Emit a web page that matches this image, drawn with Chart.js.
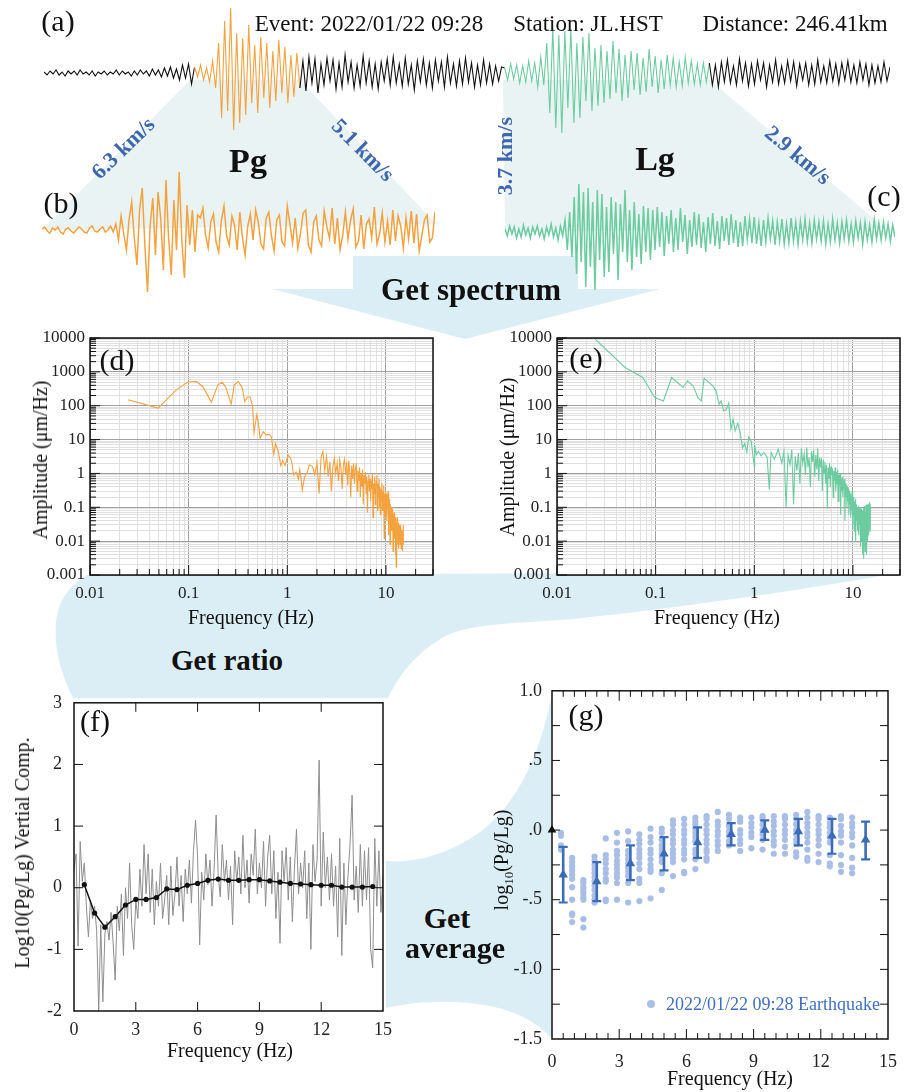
<!DOCTYPE html>
<html>
<head>
<meta charset="utf-8">
<script src="https://cdn.jsdelivr.net/npm/chart.js@4.4.1/dist/chart.umd.min.js"></script>
<style>
  html, body { margin: 0; padding: 0; background: #fff; }
  #page { position: relative; width: 909px; height: 1092px; overflow: hidden;
          font-family: "Liberation Serif", "Times New Roman", serif; color: #111; }
  #page canvas, #page svg { position: absolute; }
  .t { position: absolute; white-space: nowrap; line-height: 1; transform: translate(-50%, -50%); }
  .b { font-weight: bold; }
  .kms { font-weight: bold; font-size: 22px; color: #3d66ad; }
  .ttl { font-size: 20px; }
  .pl { font-size: 30px; }
</style>
</head>
<body>
<div id="page">
  <svg width="909" height="1092" style="left:0;top:0">
    <polygon points="190,80 300,80 436,224 42,230" fill="#e9f3f4"/>
    <polygon points="503,80 710,80 885,228 505,232" fill="#e9f3f4"/>
    <polygon points="353,256 578,256 578,289 660,289 465,339 272,289 353,289" fill="#dceef5"/>
    <path d="M87,575 L905,572 C800,590 680,608 583,618 C520,624 470,622 442,638 C416,653 398,676 388,698 L73,698 C60,672 52,642 57,615 C61,595 74,582 87,575 Z" fill="#dceef5"/>
    <path d="M386,861 C420,864 455,850 480,832 C515,805 540,760 553,688 L553,1040 C540,1025 520,1012 490,1006 C460,1000 420,1000 386,1008 Z" fill="#dceef5"/>
  </svg>

  <canvas id="ca" style="left:44px;top:3px" width="846" height="140"></canvas>
  <canvas id="cb" style="left:42px;top:160px" width="393" height="140"></canvas>
  <canvas id="cc" style="left:505px;top:162px" width="390" height="140"></canvas>
  <canvas id="cd" style="left:0px;top:320px" width="450" height="310"></canvas>
  <canvas id="ce" style="left:450px;top:320px" width="459" height="310"></canvas>
  <canvas id="cf" style="left:0px;top:680px" width="400" height="412"></canvas>
  <canvas id="cg" style="left:500px;top:670px" width="409" height="422"></canvas>

  <div class="t pl" style="left:58px;top:21px">(a)</div>
  <div class="t" style="left:369px;top:23px;font-size:23px">Event: 2022/01/22 09:28</div>
  <div class="t" style="left:588px;top:23px;font-size:23px">Station: JL.HST</div>
  <div class="t" style="left:795px;top:23px;font-size:23px">Distance: 246.41km</div>

  <div class="t kms" style="left:123px;top:148px;transform:translate(-50%,-50%) rotate(-44deg)">6.3 km/s</div>
  <div class="t b" style="left:248px;top:161px;font-size:34px">Pg</div>
  <div class="t kms" style="left:363px;top:150px;transform:translate(-50%,-50%) rotate(45deg)">5.1 km/s</div>
  <div class="t pl" style="left:61px;top:203px">(b)</div>

  <div class="t kms" style="left:505px;top:156px;transform:translate(-50%,-50%) rotate(-90deg)">3.7 km/s</div>
  <div class="t b" style="left:655px;top:159px;font-size:34px">Lg</div>
  <div class="t kms" style="left:798px;top:155px;transform:translate(-50%,-50%) rotate(40deg)">2.9 km/s</div>
  <div class="t pl" style="left:884px;top:196px">(c)</div>

  <div class="t b" style="left:471px;top:289px;font-size:31px">Get spectrum</div>

  <div class="t pl" style="left:117px;top:360px">(d)</div>
  <div class="t ttl" style="left:40px;top:460px;transform:translate(-50%,-50%) rotate(-90deg)">Amplitude (μm/Hz)</div>
  <div class="t ttl" style="left:251px;top:617px">Frequency (Hz)</div>

  <div class="t pl" style="left:586px;top:358px">(e)</div>
  <div class="t ttl" style="left:507px;top:457px;transform:translate(-50%,-50%) rotate(-90deg)">Amplitude (μm/Hz)</div>
  <div class="t ttl" style="left:717px;top:617px">Frequency (Hz)</div>

  <div class="t b" style="left:227px;top:660px;font-size:29px">Get ratio</div>

  <div class="t pl" style="left:95px;top:721px">(f)</div>
  <div class="t ttl" style="left:22px;top:853px;transform:translate(-50%,-50%) rotate(-90deg)">Log10(Pg/Lg) Vertial Comp.</div>
  <div class="t ttl" style="left:230px;top:1050px">Frequency (Hz)</div>

  <div class="t b" style="left:447px;top:918px;font-size:30px">Get</div>
  <div class="t b" style="left:455px;top:948px;font-size:30px">average</div>

  <div class="t pl" style="left:586px;top:715px">(g)</div>
  <div class="t ttl" style="left:503px;top:860px;transform:translate(-50%,-50%) rotate(-90deg)">log<sub style="font-size:13px">10</sub>(Pg/Lg)</div>
  <div class="t ttl" style="left:730px;top:1078px">Frequency (Hz)</div>
  <div style="position:absolute;left:647px;top:1000px;width:8px;height:8px;border-radius:50%;background:#a9bee6"></div>
  <div class="t" style="left:773px;top:1004px;font-size:18px;color:#3f6fc0">2022/01/22 09:28 Earthquake</div>
</div>

<script>
// ---- (a) full record, split into phases ----
const quietA = [1,-2,2,-1,3,-2,1,-3,2,-1,2,-2,3,-1,1,-2,2,-3,1,-1,2,-2,1,-1,3,-2,2,-1,1,-3,2,-2,3,-1,2,-3,4,-2,3,-4,5,-3,6,-5,4,-7,8,-5,9,-11];
const pgA = [6,-4,8,-7,5,-9,12,-15,30,-45,52,-38,65,-57,40,-50,35,-42,48,-30,28,-40,36,-25,30,-35,22,-28,33,-20,26,-30,18,-24,20];
const midA = [-15,12,-18,16,-10,14,-20,9,-12,15,-8,13,-16,10,-14,18,-9,11,-15,8,-13,17,-10,12,-14,9,-16,11,-8,14,-12,16,-10,9,-13,15,-11,8,-17,12,-9,14,-12,10,-15,13,-8,11,-14,16,-10,9,-13,12,-11,15,-9,10,-14,8,-12,13,-10,9,-11,7,-8,6];
const lgA = [5,-7,9,-6,8,-10,7,-9,12,-8,10,-14,16,-12,30,-40,45,-55,38,-60,42,-35,44,-50,30,-45,36,-28,40,-38,25,-33,28,-30,22,-26,32,-20,24,-28,18,-25,22,-17,20,-22,15,-19,24,-14,17,-20,13,-16,18,-12,15,-14,11,-13,16,-10,12,-11,9,-12,10,-9];
const tailA = [10,-12,8,-14,11,-9,13,-10,7,-12,14,-8,10,-13,9,-11,12,-7,10,-14,8,-9,13,-11,7,-10,12,-8,11,-13,9,-7,10,-12,8,-11,13,-9,7,-10,12,-8,9,-11,10,-7,12,-9,8,-10,11,-7,9,-12,8,-10,7,-9,11,-8,6];

// ---- (b) Pg window, (c) Lg window ----
const pgWave = [1,3,-1,-3,2,0,3,-2,-4,1,2,-1,-3,0,3,1,-2,-3,2,4,-1,-2,1,3,-2,0,4,-2,
  6,-10,14,-4,-20,10,28,-8,-35,20,42,-15,-62,5,32,-25,38,12,-40,50,-8,-45,30,-20,58,-10,-48,25,-15,20,-22,15,
  12,22,-5,-18,8,16,-12,-22,10,24,
  -6,-15,14,5,-20,18,-8,-25,4,16,
  -10,20,8,-14,-19,12,18,-6,-21,10,
  15,-12,-16,24,6,-13,12,-18,-4,17,
  20,-15,-22,8,14,-10,-16,19,3,-8,
  22,-14,12,-20,-6,18,-9,10,21,-17,
  -11,15,-19,6,11,-8,23,-14,-4,17,
  -12,9,-15,20,-11,14,4,-18,12,-9,
  19,-13,16,-21,-6,10,15,-12,-8,18];
const lgWave = [3,-4,6,-2,5,-6,3,-5,7,-3,4,-6,5,-2,6,-4,3,-7,5,-3,8,-5,4,-8,6,-4,
  12,-18,20,-25,35,-42,48,-30,40,-55,44,-35,30,-58,42,-28,38,-45,25,-40,35,-22,30,-48,28,-20,42,-30,22,-38,30,-25,18,-32,26,-20,24,-28,
  22,-18,25,-15,20,-24,16,-12,22,-20,14,-18,24,-10,17,-22,12,-15,20,-13,18,-16,10,-20,15,-12,19,-14,11,-17,
  16,-9,14,-13,18,-11,12,-15,10,-14,16,-8,13,-11,15,-12,9,-14,12,-10,14,-7,11,-13,10,-9,13,-12,8,-11,
  14,-9,10,-12,11,-8,13,-10,9,-11,12,-7,10,-9,11,-12,8,-10,13,-8,9,-11,10,-7,12,-9,8,-10,11,-6,
  9,-12,10,-8,7,-10,12,-7,9,-8,10,-6,8,-9,7,-5];

// ---- (d) Pg spectrum ----
const pgLowFreq = [0.0244,0.049,0.075,0.098,0.12,0.139,0.17,0.198,0.22,0.24,0.27,0.29,0.32,0.35,0.37,0.395,0.42,0.445,0.46,0.49,0.51,0.53,0.57,0.61,0.66,0.69,0.73,0.76,0.81,0.86,0.9,0.95,1.02,1.1,1.16,1.23,1.3,1.34,1.42,1.5,1.6,1.67,1.8,1.9];
const pgLowAmp = [150,85,295,500,520,370,128,415,490,330,112,415,520,330,134,180,180,95,16,54,31,11,17,14,14,12,3.7,7.5,4.5,1.7,2.4,1.7,3.5,2.5,0.9,1.1,0.68,1.3,0.33,0.8,1.1,1.8,1.6,0.9];
// 2.0 .. 15.0 Hz every 0.1 Hz
const pgHighAmp = [2.1,0.25,3.0,4.4,1.2,3.2,0.8,2.2,0.3,1.6,
  2.8,1.0,2.0,0.6,2.5,1.4,0.35,1.8,2.6,0.9,
  2.2,0.45,2.4,1.1,0.2,1.7,0.7,2.0,0.5,1.3,
  2.0,0.3,1.2,0.6,1.5,0.2,1.0,0.4,1.3,0.12,
  0.9,0.5,1.1,0.25,0.8,0.07,0.6,0.9,0.3,0.7,
  0.15,0.6,0.35,1.0,0.05,0.5,0.25,0.8,0.12,0.4,
  0.6,0.9,0.08,0.5,0.2,0.7,0.1,0.4,0.06,0.35,
  0.15,0.5,0.08,0.3,0.2,0.45,0.012,0.25,0.1,0.3,
  0.06,0.25,0.04,0.2,0.1,0.3,0.015,0.15,0.05,0.18,
  0.008,0.12,0.04,0.1,0.02,0.08,0.03,0.09,0.005,0.06,
  0.02,0.07,0.012,0.06,0.025,0.004,0.05,0.0017,0.035,0.012,
  0.05,0.008,0.04,0.015,0.035,0.006,0.03,0.012,0.028,0.008,
  0.03,0.012,0.025,0.006,0.022,0.01,0.02,0.005,0.015,0.008,
  0.03];

// ---- (e) Lg spectrum ----
const lgLowFreq = [0.0244,0.049,0.074,0.098,0.12,0.145,0.19,0.21,0.24,0.27,0.29,0.31,0.38,0.41,0.44,0.46,0.49,0.52,0.55,0.58,0.61,0.64,0.68,0.72,0.76,0.8,0.84,0.88,0.93,1.0,1.01,1.05,1.1,1.17,1.25,1.35,1.42,1.48,1.6,1.75,1.9];
const lgLowAmp = [9300,1350,680,175,138,680,345,545,385,165,138,640,385,275,110,138,70,78,120,20,40,18,30,16,5.7,7.7,4.3,12,9,1.6,7,3.6,4.5,3.3,4.1,3.0,0.33,4.2,2.6,5.2,2.0];
const lgHighAmp = [4.5,0.1,3.5,1.8,5.0,0.12,3.2,1.2,4.0,0.5,
  5.5,2.0,3.8,0.9,5.8,1.5,3.0,0.4,4.5,2.2,
  5.0,0.8,3.5,1.3,5.5,0.6,3.0,1.5,2.8,0.3,
  2.5,1.0,2.2,0.5,1.8,0.09,1.5,0.7,2.0,0.4,
  1.6,0.9,1.4,0.2,1.2,0.6,1.5,0.3,1.1,0.5,
  1.3,0.15,0.9,0.45,1.0,0.06,0.7,0.3,0.8,0.2,
  0.6,0.35,0.7,0.04,0.5,0.2,0.45,0.1,0.4,0.15,
  0.35,0.06,0.3,0.12,0.25,0.05,0.2,0.08,0.3,0.03,
  0.25,0.06,0.2,0.02,0.15,0.05,0.18,0.01,0.12,0.04,
  0.1,0.02,0.09,0.03,0.11,0.015,0.08,0.03,0.1,0.007,
  0.07,0.02,0.09,0.01,0.08,0.004,0.06,0.02,0.1,0.003,
  0.05,0.015,0.11,0.005,0.07,0.02,0.12,0.004,0.08,0.02,
  0.12,0.01,0.09,0.03,0.13,0.015,0.1,0.03,0.14,0.02,
  0.12];
const HIGH_START = 2.0, HIGH_STEP = 0.1;

// ---- (f) spectral ratio, 0..15 Hz every 0.1 Hz ----
const ratioVals = [0.3,0.55,-0.95,0.75,0.1,0.4,-0.3,-0.8,-0.2,-0.5,
  -0.3,-0.7,-2.0,-0.6,-1.85,-0.75,-0.55,-0.85,-0.4,-0.9,
  -1.5,-0.3,-0.7,-0.1,-1.1,0.0,-0.5,0.4,-0.6,-1.0,
  -0.2,-0.5,0.3,-0.3,0.7,-0.1,0.55,-0.4,0.3,-0.6,
  0.1,-0.3,0.4,-0.5,-0.2,0.2,-0.6,0.35,-0.45,-0.1,
  0.5,-0.3,0.2,-0.55,0.3,-0.1,0.45,-0.25,0.6,1.1,
  0.5,-0.93,0.25,-0.2,0.55,0.05,0.45,-0.3,0.3,1.18,
  0.2,-0.15,0.7,0.1,0.45,-0.2,0.35,-0.6,0.6,0.1,
  0.5,-0.1,0.85,0.0,0.45,-0.25,0.55,0.2,0.95,-0.1,
  0.4,0.0,0.75,-0.3,0.5,0.85,-0.1,0.6,-0.5,0.25,
  -0.9,0.6,0.1,0.65,-0.2,0.5,-0.55,0.3,0.95,-0.1,
  0.4,0.0,0.6,-0.5,0.4,-1.0,0.7,0.1,0.45,2.07,
  -0.3,0.9,0.0,0.5,-0.2,0.55,-0.3,0.35,-0.8,0.8,
  -1.1,0.4,-0.6,0.2,0.7,1.5,-0.2,0.35,-0.4,0.7,
  -0.3,0.6,-0.2,0.65,-1.0,-1.3,0.8,-0.3,0.6,-0.4,
  0.2];
const RATIO_STEP = 0.1;
const bandFreqs = [0.5,1,1.5,2,2.5,3,3.5,4,4.5,5,5.5,6,6.5,7,7.5,8,8.5,9,9.5,10,10.5,11,11.5,12,12.5,13,13.5,14,14.5];
const bandVals = [0.05,-0.41,-0.64,-0.47,-0.28,-0.19,-0.19,-0.16,-0.02,-0.03,0.04,0.07,0.12,0.14,0.12,0.12,0.13,0.13,0.11,0.09,0.07,0.06,0.05,0.04,0.04,0.01,0.01,0.01,0.02];

// ---- (g) all stations + averages ----
const stFreqs = [0.4,0.9,1.4,1.9,2.4,2.9,3.4,3.9,4.4,4.9,5.4,5.9,6.4,6.9,7.4,7.9,8.4,8.9,9.4,9.9,10.4,10.9,11.4,11.9,12.4,12.9,13.4];
const stVals = [
  [-0.02,-0.04,-0.11,-0.14],
  [-0.2,-0.23,-0.26,-0.29,-0.32,-0.35,-0.41,-0.5,-0.6,-0.61,-0.66],
  [-0.36,-0.38,-0.41,-0.43,-0.45,-0.48,-0.5,-0.64,-0.7],
  [-0.19,-0.22,-0.25,-0.28,-0.31,-0.34,-0.37,-0.4,-0.43,-0.47,-0.5,-0.52],
  [-0.06,-0.18,-0.21,-0.24,-0.28,-0.31,-0.35,-0.37,-0.5,-0.51],
  [-0.02,-0.09,-0.15,-0.18,-0.22,-0.25,-0.28,-0.31,-0.34,-0.38,-0.5],
  [-0.01,-0.08,-0.15,-0.18,-0.21,-0.24,-0.27,-0.3,-0.33,-0.38,-0.52],
  [-0.03,-0.07,-0.1,-0.14,-0.17,-0.2,-0.24,-0.28,-0.35,-0.38,-0.51],
  [0.01,-0.05,-0.09,-0.14,-0.17,-0.21,-0.25,-0.28,-0.3,-0.49],
  [0.01,-0.02,-0.07,-0.11,-0.14,-0.17,-0.2,-0.23,-0.31,-0.43],
  [0.07,0.04,0.0,-0.03,-0.07,-0.1,-0.14,-0.17,-0.2,-0.23,-0.33],
  [0.08,0.04,0.0,-0.03,-0.07,-0.1,-0.14,-0.17,-0.21,-0.3,-0.31],
  [0.09,0.06,0.04,0.01,-0.02,-0.05,-0.08,-0.14,-0.17,-0.21,-0.28],
  [0.1,0.08,0.04,0.0,-0.03,-0.07,-0.1,-0.14,-0.16,-0.2,-0.22],
  [0.13,0.06,0.03,-0.01,-0.04,-0.08,-0.11,-0.15],
  [0.11,0.08,0.03,-0.01,-0.04,-0.08,-0.11],
  [0.09,0.06,0.0,-0.03,-0.07,-0.1,-0.15],
  [0.09,0.05,0.02,-0.02,-0.05,-0.13],
  [0.1,0.08,0.04,0.0,-0.03,-0.07,-0.14],
  [0.1,0.06,0.03,-0.01,-0.04,-0.08,-0.11,-0.17],
  [0.1,0.08,0.04,0.0,-0.03,-0.07,-0.12,-0.17],
  [0.11,0.08,0.04,0.0,-0.03,-0.07,-0.1,-0.16,-0.19],
  [0.13,0.09,0.05,0.02,-0.02,-0.05,-0.09,-0.14,-0.2,-0.22],
  [0.1,0.08,0.04,0.0,-0.03,-0.07,-0.11,-0.17,-0.23],
  [0.09,0.05,0.02,-0.02,-0.05,-0.09,-0.18,-0.24,-0.26],
  [0.1,0.08,0.03,-0.01,-0.04,-0.09,-0.18,-0.25,-0.3],
  [0.09,0.05,0.02,-0.02,-0.05,-0.11,-0.2,-0.27,-0.31]
];
const avgFreqs = [0.5,2,3.5,5,6.5,8,9.5,11,12.5,14];
const avgVals = [-0.32,-0.37,-0.24,-0.17,-0.09,-0.03,0.0,-0.01,-0.04,-0.07];
const avgHigh = [-0.12,-0.23,-0.11,-0.05,0.02,0.05,0.07,0.08,0.08,0.06];
const avgLow = [-0.52,-0.51,-0.36,-0.29,-0.2,-0.11,-0.07,-0.11,-0.17,-0.21];

const ORANGE = '#f4a23e', GREEN = '#6ccca0', INK = '#111', BLUE = '#3a6cb8';
Chart.defaults.font.family = '"Liberation Serif", "Times New Roman", serif';
Chart.defaults.color = '#222';

const base = {
  responsive: false, animation: false, events: [],
  plugins: { legend: { display: false }, tooltip: { enabled: false } }
};

function wave(id, vals, color, width, segFn) {
  const ds = { data: vals.map((v, i) => ({ x: i, y: v })), borderColor: color, borderWidth: width, pointRadius: 0, tension: 0 };
  if (segFn) ds.segment = { borderColor: segFn };
  new Chart(document.getElementById(id), {
    type: 'line',
    data: { datasets: [ds] },
    options: { ...base, layout: { padding: 0 },
      scales: { x: { type: 'linear', display: false, min: 0, max: vals.length - 1 },
                y: { display: false, min: -70, max: 70 } } }
  });
}

// box, inner tick marks and white plot background
function frameFor(cfg) {
  return {
    id: 'frame',
    beforeDraw(chart) {
      const a = chart.chartArea, c = chart.ctx;
      c.save(); c.fillStyle = '#fff'; c.fillRect(a.left, a.top, a.right - a.left, a.bottom - a.top); c.restore();
    },
    afterDraw(chart) {
      const { ctx: c, chartArea: a, scales } = chart;
      c.save(); c.strokeStyle = INK; c.lineWidth = 1;
      cfg.xt.forEach(([v, l]) => {
        const p = scales.x.getPixelForValue(v);
        c.beginPath(); c.moveTo(p, a.bottom); c.lineTo(p, a.bottom - l);
        if (cfg.mirror) { c.moveTo(p, a.top); c.lineTo(p, a.top + l); }
        c.stroke();
      });
      cfg.yt.forEach(([v, l]) => {
        const p = scales.y.getPixelForValue(v);
        c.beginPath(); c.moveTo(a.left, p); c.lineTo(a.left + l, p);
        if (cfg.mirror) { c.moveTo(a.right, p); c.lineTo(a.right - l, p); }
        c.stroke();
      });
      c.lineWidth = 1.5;
      c.strokeRect(a.left, a.top, a.right - a.left, a.bottom - a.top);
      c.restore();
    }
  };
}

const isDecade = v => Math.abs(Math.log10(v) - Math.round(Math.log10(v))) < 1e-9;
function logTickValues(min, max) {
  const out = [];
  for (let e = Math.floor(Math.log10(min)); e <= Math.ceil(Math.log10(max)); e++)
    for (let m = 1; m <= 9; m++) {
      const v = +(m * Math.pow(10, e)).toPrecision(3);
      if (v >= min && v <= max) out.push(v);
    }
  return out;
}
function logAxis(min, max, horizontal, size) {
  const list = logTickValues(min, max);
  return {
    type: 'logarithmic', min, max,
    afterBuildTicks: s => { s.ticks = list.map(v => ({ value: v })); },
    afterFit: s => { if (horizontal) s.height = size; else s.width = size; },
    ticks: { autoSkip: false, maxRotation: 0, minRotation: 0, padding: horizontal ? 8 : 5,
             font: { size: 17 }, callback: v => isDecade(v) ? String(v) : '' },
    grid: { drawTicks: false, lineWidth: 1,
            color: c => (c.tick && isDecade(c.tick.value)) ? '#a0a0a0' : '#e0e0e0' },
    border: { display: false }
  };
}

function spectrum(id, lowF, lowA, highA, color, yWidth, padRight) {
  const pts = lowF.map((f, i) => ({ x: f, y: lowA[i] }));
  highA.forEach((a, i) => pts.push({ x: +(HIGH_START + i * HIGH_STEP).toFixed(2), y: a }));
  const xt = logTickValues(0.01, 30).map(v => [v, isDecade(v) ? 10 : 6]);
  const yt = logTickValues(0.001, 10000).map(v => [v, isDecade(v) ? 10 : 6]);
  new Chart(document.getElementById(id), {
    type: 'line',
    data: { datasets: [{ data: pts, borderColor: color, borderWidth: 1.1, pointRadius: 0, tension: 0 }] },
    options: { ...base,
      layout: { padding: { top: 18, right: padRight, left: 0, bottom: 0 } },
      scales: { x: logAxis(0.01, 30, true, 55), y: logAxis(0.001, 10000, false, yWidth) } },
    plugins: [frameFor({ xt, yt, mirror: false })]
  });
}

// (a)
const bounds = [quietA.length, quietA.length + pgA.length,
  quietA.length + pgA.length + midA.length,
  quietA.length + pgA.length + midA.length + lgA.length];
const fullTrace = quietA.concat(pgA, midA, lgA, tailA);
wave('ca', fullTrace, INK, 1.1, ctx => {
  const i = ctx.p0DataIndex;
  if (i >= bounds[0] && i < bounds[1]) return ORANGE;
  if (i >= bounds[2] && i < bounds[3]) return GREEN;
  return INK;
});
// (b), (c)
wave('cb', pgWave, ORANGE, 1.5);
wave('cc', lgWave, GREEN, 1.5);
// (d), (e)
spectrum('cd', pgLowFreq, pgLowAmp, pgHighAmp, ORANGE, 90, 17);
spectrum('ce', lgLowFreq, lgLowAmp, lgHighAmp, GREEN, 107, 9);

// (f)
const flatAxis = (min, max, step, pad, fit, horizontal) => ({
  min, max, ticks: { stepSize: step, padding: pad, font: { size: 18 } },
  grid: { display: false, drawTicks: false }, border: { display: false },
  afterFit: s => { if (horizontal) s.height = fit; else s.width = fit; }
});
new Chart(document.getElementById('cf'), {
  type: 'line',
  data: { datasets: [
    { data: bandFreqs.map((f, i) => ({ x: f, y: bandVals[i] })), borderColor: INK, borderWidth: 1.5,
      pointRadius: 2.6, pointBackgroundColor: INK, pointBorderWidth: 0, tension: 0 },
    { data: ratioVals.map((v, i) => ({ x: +(i * RATIO_STEP).toFixed(1), y: v })), borderColor: '#8e8e8e',
      borderWidth: 1, pointRadius: 0, tension: 0 }
  ] },
  options: { ...base,
    layout: { padding: { top: 19, right: 14, left: 0, bottom: 0 } },
    scales: { x: { type: 'linear', ...flatAxis(0, 15, 3, 8, 81, true) }, y: flatAxis(-2, 3, 1, 12, 74, false) } },
  plugins: [frameFor({ xt: [[3, 9], [6, 9], [9, 9], [12, 9]], yt: [[-1, 9], [0, 9], [1, 9], [2, 9]], mirror: true })]
});

// (g)
const gLabels = { '1': '1.0', '0.5': '.5', '0': '.0', '-0.5': '-.5', '-1': '-1.0', '-1.5': '-1.5' };
const stPts = [];
stFreqs.forEach((f, i) => stVals[i].forEach(v => stPts.push({ x: f, y: v })));
const gxt = [], gyt = [];
for (let k = 1; k < 30; k++) gxt.push([k * 0.5, k % 6 === 0 ? 10 : 6]);
for (let k = 1; k < 10; k++) gyt.push([-1.5 + k * 0.25, 8]);
const errorBars = {
  id: 'errorBars',
  afterDatasetsDraw(chart) {
    const { ctx: c, scales: { x, y } } = chart;
    c.save(); c.strokeStyle = BLUE; c.fillStyle = BLUE;
    avgFreqs.forEach((f, i) => {
      const px = x.getPixelForValue(f), t = y.getPixelForValue(avgHigh[i]), b = y.getPixelForValue(avgLow[i]);
      c.lineWidth = 2.6; c.beginPath(); c.moveTo(px, t); c.lineTo(px, b); c.stroke();
      c.lineWidth = 2.2; c.beginPath(); c.moveTo(px - 4.5, t); c.lineTo(px + 4.5, t); c.moveTo(px - 4.5, b); c.lineTo(px + 4.5, b); c.stroke();
    });
    c.restore();
  }
};
const gScales = {
  x: { type: 'linear', ...flatAxis(0, 15, 3, 12, 53, true) },
  y: flatAxis(-1.5, 1, 0.5, 10, 52, false)
};
gScales.y.ticks.callback = v => gLabels[String(v)];
new Chart(document.getElementById('cg'), {
  type: 'scatter',
  data: { datasets: [
    { data: avgFreqs.map((f, i) => ({ x: f, y: avgVals[i] })), pointStyle: 'triangle', pointRadius: 5.5,
      backgroundColor: BLUE, borderColor: BLUE, borderWidth: 0 },
    { data: stPts, pointRadius: 3.1, backgroundColor: '#a9bee6', borderWidth: 0 },
    { data: [{ x: 0, y: 0 }], pointStyle: 'triangle', pointRadius: 5, backgroundColor: INK, borderWidth: 0, clip: false }
  ] },
  options: { ...base, layout: { padding: { top: 16, right: 14, left: 0, bottom: 0 } }, scales: gScales },
  plugins: [frameFor({ xt: gxt, yt: gyt, mirror: true }), errorBars]
});
</script>
</body>
</html>
